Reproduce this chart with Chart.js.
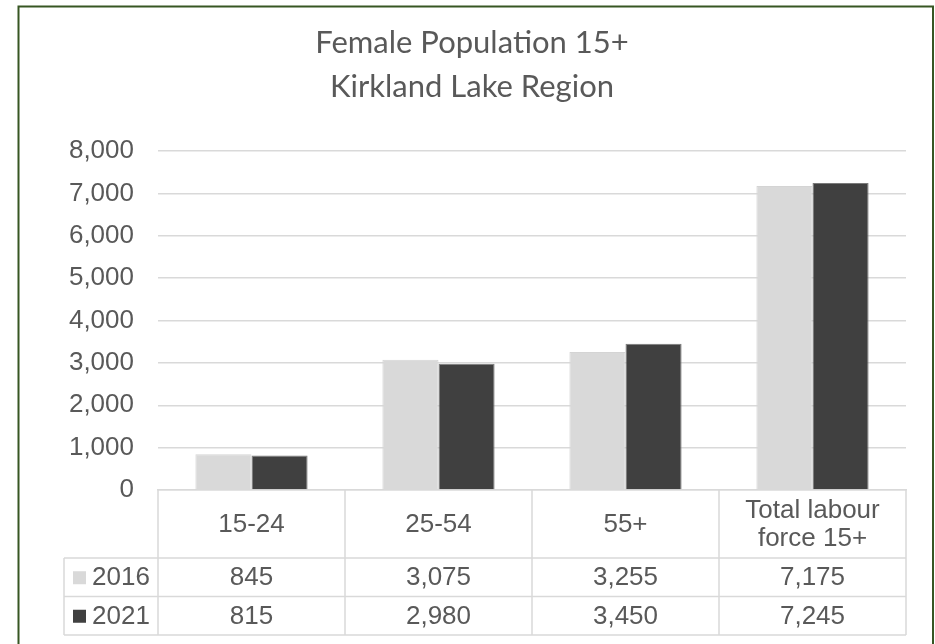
<!DOCTYPE html>
<html><head><meta charset="utf-8">
<script src="https://cdn.jsdelivr.net/npm/chart.js@4.4.1/dist/chart.umd.min.js"></script>
<style>html,body{margin:0;padding:0;background:#fff}canvas{display:block}</style>
</head><body>
<canvas id="c" width="935" height="644"></canvas>
<script>
// ---- data ----
const titleLines = ['Female Population 15+', 'Kirkland Lake Region'];
const categories = ['15-24', '25-54', '55+', ['Total labour', 'force 15+']];
const seriesNames = ['2016', '2021'];
const values2016 = [845, 3075, 3255, 7175];
const values2021 = [815, 2980, 3450, 7245];
const yTickValues = [0, 1000, 2000, 3000, 4000, 5000, 6000, 7000, 8000];
const seriesColors = ['#d9d9d9', '#404040'];

const TEXT = '#595959';
const LINE = '#d9d9d9';
const FONT = "'Liberation Sans', Arial, sans-serif";
const fmt = v => v.toLocaleString('en-US');

const tablePlugin = {
  id: 'dataTable',
  beforeDraw(chart) {
    const ctx = chart.ctx;
    ctx.save();
    ctx.fillStyle = '#fff';
    ctx.fillRect(0, 0, chart.width, chart.height);
    ctx.restore();
  },
  afterLayout(chart) {
    if (chart.titleBlock) { chart.titleBlock.left = 18; chart.titleBlock.right = 926; }
  },
  afterDraw(chart) {
    const ctx = chart.ctx;
    const x = chart.scales.x;
    const area = chart.chartArea;
    const labels = chart.data.labels;
    const n = labels.length;
    const half = (x.getPixelForValue(1) - x.getPixelForValue(0)) / 2;
    const bounds = [];
    for (let i = 0; i <= n; i++) bounds.push(x.getPixelForValue(0) - half + i * 2 * half);
    const top = area.bottom;
    const catH = 68, rowH = 38.5;
    const legendLeft = 64;
    const r1 = top + catH, r2 = r1 + rowH, r3 = r2 + rowH;
    ctx.save();
    ctx.strokeStyle = LINE;
    ctx.lineWidth = 1.5;
    ctx.beginPath();
    bounds.forEach(b => { ctx.moveTo(b, top); ctx.lineTo(b, r3); });
    ctx.moveTo(legendLeft, r1); ctx.lineTo(legendLeft, r3);
    [r1, r2, r3].forEach(y => { ctx.moveTo(legendLeft, y); ctx.lineTo(bounds[n], y); });
    ctx.stroke();

    ctx.font = '26px ' + FONT;
    ctx.fillStyle = TEXT;
    ctx.textBaseline = 'middle';
    ctx.textAlign = 'center';
    // category row
    const lh = 27.5;
    labels.forEach((lab, i) => {
      const lines = Array.isArray(lab) ? lab : [lab];
      const cy = top + catH / 2;
      const start = cy - (lines.length - 1) * lh / 2;
      lines.forEach((t, k) => ctx.fillText(t, x.getPixelForValue(i), start + k * lh + 1));
    });
    // value rows with legend keys
    const rows = [r1, r2];
    chart.data.datasets.forEach((ds, di) => {
      const cy = rows[di] + rowH / 2;
      ctx.fillStyle = ds.backgroundColor;
      ctx.fillRect(73, cy - 6, 13, 13);
      ctx.fillStyle = TEXT;
      ctx.textAlign = 'left';
      ctx.fillText(ds.label, 92, cy + 1);
      ctx.textAlign = 'center';
      ds.data.forEach((v, i) => {
        ctx.fillText(fmt(v), x.getPixelForValue(i), cy + 1);
      });
    });
    // outer frame
    ctx.strokeStyle = '#375623';
    ctx.lineWidth = 2;
    ctx.strokeRect(18.5, 6.5, 914.5, 700);
    ctx.restore();
  }
};

new Chart(document.getElementById('c'), {
  type: 'bar',
  data: {
    labels: categories,
    datasets: [
      { label: seriesNames[0], data: values2016, backgroundColor: seriesColors[0], borderColor: '#d4d4d4', borderWidth: 1 },
      { label: seriesNames[1], data: values2021, backgroundColor: seriesColors[1], borderColor: '#7a7a7a', borderWidth: 1 }
    ]
  },
  options: {
    responsive: false,
    animation: false,
    devicePixelRatio: 1,
    layout: { padding: { left: 64, right: 29, top: 0, bottom: 9 } },
    datasets: { bar: { categoryPercentage: 0.6, barPercentage: 1.0 } },
    plugins: {
      legend: { display: false },
      tooltip: { enabled: false },
      title: {
        display: true,
        text: titleLines,
        color: TEXT,
        font: { family: "Lato, 'Open Sans', sans-serif", size: 31, weight: 'normal', lineHeight: 1.42 },
        padding: { top: 21, bottom: 42 }
      }
    },
    scales: {
      x: {
        grid: { display: false, drawTicks: false },
        border: { display: true, color: LINE, width: 1.5 },
        ticks: { display: false },
        afterFit: s => { s.height = 145; }
      },
      y: {
        min: 0, max: 8000,
        grid: { color: LINE, lineWidth: 1.5, drawTicks: false },
        border: { display: false },
        ticks: { color: TEXT, font: { family: FONT, size: 26 }, padding: 24, callback: v => fmt(v) },
        afterBuildTicks: s => { s.ticks = yTickValues.map(v => ({ value: v })); },
        afterFit: s => { s.width = 94; }
      }
    }
  },
  plugins: [tablePlugin]
});
</script>
</body></html>
